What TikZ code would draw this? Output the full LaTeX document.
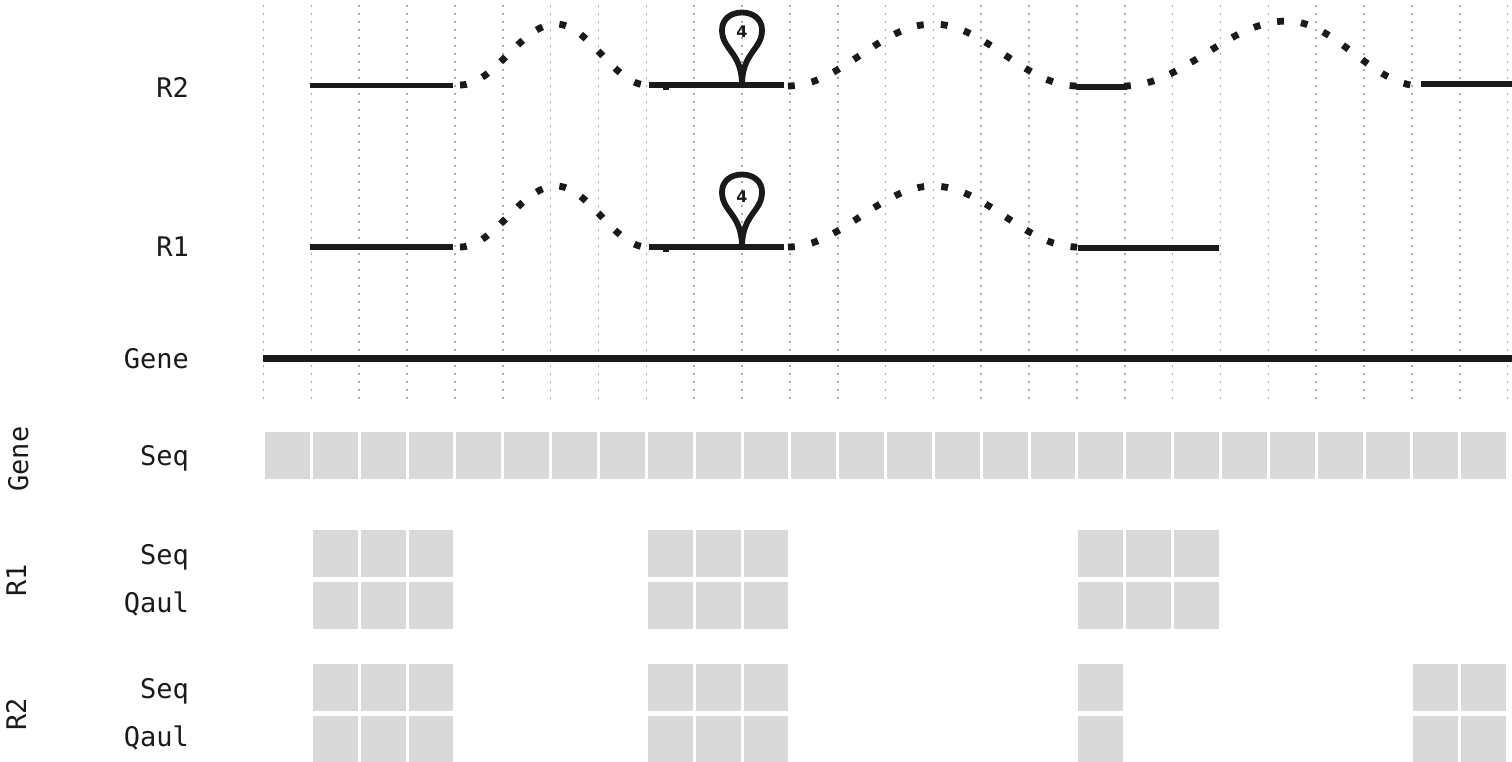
\documentclass[tikz,border=0pt]{standalone}
\usepackage{fontspec}
\setmonofont{DejaVu Sans Mono}
\newfontfamily\numfont{DejaVu Sans}
\definecolor{ink}{HTML}{1A1A1A}
\definecolor{cellgray}{HTML}{D9D9D9}
\definecolor{gridgray}{HTML}{ABABAB}
\tikzset{
  lbl/.style={font=\ttfamily\fontsize{27}{30}\selectfont, text=ink, inner sep=0pt},
  rowlbl/.style={lbl, anchor=base east},
  sidelbl/.style={lbl, rotate=90, anchor=base},
  gridline/.style={draw=gridgray, line width=1.6pt, dash pattern=on 1.6pt off 6.4pt},
  exon/.style={draw=ink, line width=5.8pt},
  geneline/.style={draw=ink, line width=7pt},
  intron/.style={draw=ink, line width=6.8pt, dash pattern=on 6.8pt off 17.2pt},
  cell/.style={fill=cellgray, draw=none},
  loopline/.style={draw=ink, line width=5.8pt, line join=round},
  loopnum/.style={font=\numfont\bfseries\fontsize{16}{16}\selectfont, text=ink, inner sep=0pt},
}
\newcommand\bumppath[5]{(#1,#4) .. controls ({#1+0.363*(#2-#1)},#4) and ({#2-0.363*(#2-#1)},#5) .. (#2,#5) .. controls ({#2+0.363*(#3-#2)},#5) and ({#3-0.363*(#3-#2)},#4) .. (#3,#4)}
\newcommand\looppath[2]{(#1,#2) .. controls (#1,{#2-33}) and ({#1-20},{#2-35}) .. ({#1-20},{#2-55}) .. controls ({#1-20},{#2-66}) and ({#1-11},{#2-72.5}) .. (#1,{#2-72.5}) .. controls ({#1+11},{#2-72.5}) and ({#1+20},{#2-66}) .. ({#1+20},{#2-55}) .. controls ({#1+20},{#2-35}) and (#1,{#2-33}) .. (#1,#2)}
\begin{document}
\begin{tikzpicture}[x=1pt,y=-1pt]
\useasboundingbox (0,0) rectangle (1512,761);
\clip (0,0) rectangle (1512,761);
% vertical dotted grid
\foreach \k in {0,...,26} \draw[gridline] ({263.5+47.85*\k},5) -- ++(0,395);
% row labels
\node[rowlbl] (lr2) at (189,97) {R2};
\node[rowlbl] (lr1) at (189,256.7) {R1};
\node[rowlbl] (lgene) at (189,368) {Gene};
\node[rowlbl] (lgseq) at (189,465.7) {Seq};
\node[rowlbl] (lr1seq) at (189,564) {Seq};
\node[rowlbl] (lr1q) at (189,612.7) {Qaul};
\node[rowlbl] (lr2seq) at (189,698.3) {Seq};
\node[rowlbl] (lr2q) at (189,746) {Qaul};
\node[sidelbl] (sgene) at (28,459) {Gene};
\node[sidelbl] (sr1) at (26,580) {R1};
\node[sidelbl] (sr2) at (26,714) {R2};
% gene line
\draw[geneline] (263,358) -- (1512,358);
% R2 track
\draw[exon] (310,85.5) -- (453,85.5);
\draw[exon] (649,85) -- (784,85);
\draw[exon] (1076,87) -- (1127,87);
\draw[exon] (1421,84) -- (1512,84);
\draw[intron] \bumppath{460}{556}{647}{85}{24};
\draw[intron] \bumppath{788}{933}{1077}{86}{24};
\draw[intron] \bumppath{1124}{1287}{1421}{86}{21};
\draw[loopline] \looppath{742}{85};
\node[loopnum] (n2) at (742,32) {4};
\fill[ink] (663,86) rectangle (669,89.5);
% R1 track
\draw[exon] (310,247) -- (453,247);
\draw[exon] (649,247) -- (784,247);
\draw[exon] (1078,248) -- (1219,248);
\draw[intron] \bumppath{460}{556}{647}{247}{186};
\draw[intron] \bumppath{788}{933}{1077}{247}{186};
\draw[loopline] \looppath{742}{247};
\node[loopnum] (n1) at (742,197) {4};
\fill[ink] (663,248) rectangle (669,251.5);
% sequence cells
\foreach \k in {0,...,25} \fill[cell] ({265+47.85*\k},432) rectangle ++(44.85,47);
\foreach \k in {1,2,3,8,9,10,17,18,19} {
  \fill[cell] ({265+47.85*\k},530) rectangle ++(44.85,47);
  \fill[cell] ({265+47.85*\k},582) rectangle ++(44.85,47);
}
\foreach \k in {1,2,3,8,9,10,17,24,25} {
  \fill[cell] ({265+47.85*\k},664) rectangle ++(44.85,47);
  \fill[cell] ({265+47.85*\k},716) rectangle ++(44.85,47);
}
\end{tikzpicture}
\end{document}
